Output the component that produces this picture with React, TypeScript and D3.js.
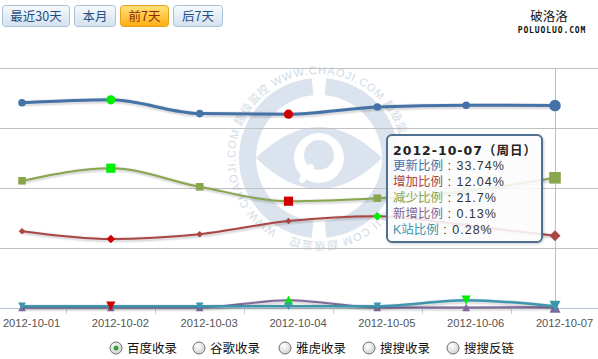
import React from 'react';
import * as d3 from 'd3';

// ---------------- data ----------------
const dates = ['2012-10-01', '2012-10-02', '2012-10-03', '2012-10-04', '2012-10-05', '2012-10-06', '2012-10-07'];
const seriesNames = ['更新比例', '增加比例', '减少比例', '新增比例', 'K站比例'];
const updateRatio = [34.2, 34.7, 32.4, 32.3, 33.5, 33.8, 33.74];
const increaseRatio = [12.8, 11.5, 12.3, 14.5, 15.3, 13.8, 12.04];
const decreaseRatio = [21.2, 23.3, 20.2, 17.8, 18.3, 19.5, 21.7];
const newRatio = [0.1, 0.1, 0.1, 1.3, 0.1, 0.1, 0.13];
const kRatio = [0.3, 0.3, 0.3, 0.3, 0.3, 1.3, 0.28];
const highIndex = [1, 4, 1, 3, 5];
const lowIndex = [3, 1, 3, -1, 1];
const hoverIndex = 6;
const tooltipTitle = '2012-10-07（周日）';
const tooltipValues = ['33.74%', '12.04%', '21.7%', '0.13%', '0.28%'];
const yTicks = [0, 10, 20, 30, 40];
const buttonLabels = ['最近30天', '本月', '前7天', '后7天'];
const legendItems = ['百度收录', '谷歌收录', '雅虎收录', '搜搜收录', '搜搜反链'];
const watermarkText = 'WWW.CHAOJI.COM  超级监控  ';

const seriesData = [updateRatio, increaseRatio, decreaseRatio, newRatio, kRatio];

// ---------------- styles ----------------
const W = 598;
const H = 359;
const colors = ['#4572A7', '#AA4643', '#89A54E', '#80699B', '#3D96AE'];
const symbols = ['circle', 'diamond', 'square', 'triangle', 'triangle-down'];
const lineWidths = [3, 2, 2, 2, 2.5];
const markerR = { normal: [3.8, 3.3, 3.8, 3.8, 3.8], high: [4.6, 4.3, 4.6, 4.6, 4.6], hover: [5.8, 5.5, 5.8, 5.5, 5.5] };
const HIGH = '#00EE00';
const LOW = '#CC0000';
const CJK = '"Noto Sans CJK SC", sans-serif';

const x = d3.scalePoint<string>().domain(dates).range([22, 555]);
const y = d3.scaleLinear().domain([0, 40]).range([308, 68]);

function symbolPath(sym: string, r: number): string {
  switch (sym) {
    case 'circle':
      return d3.symbol(d3.symbolCircle, Math.PI * r * r)() as string;
    case 'square':
      return `M${-r},${-r}H${r}V${r}H${-r}Z`;
    case 'diamond':
      return `M0,${-r}L${r},0L0,${r}L${-r},0Z`;
    case 'triangle':
      return `M0,${-r}L${r},${r}L${-r},${r}Z`;
    default:
      return `M${-r},${-r}L${r},${-r}L0,${r}Z`;
  }
}

const line = d3
  .line<number>()
  .x((_, i) => x(dates[i]) as number)
  .y((d) => y(d))
  .curve(d3.curveMonotoneX);

function Button({ x0, w, label, active }: { x0: number; w: number; label: string; active: boolean }) {
  return (
    <g>
      <rect x={x0 + 0.5} y={5.5} width={w} height={21} rx={3} fill={active ? 'url(#btnOrange)' : 'url(#btnBlue)'} stroke={active ? '#e8a020' : '#a9c0d8'} />
      <text x={x0 + w / 2 + 0.5} y={20.5} textAnchor="middle" fontSize={12.5} fontFamily={CJK} fill={active ? '#8a2a00' : '#1d4f82'}>
        {label}
      </text>
    </g>
  );
}

function Watermark() {
  const cx = 319;
  const cy = 158;
  const gap = 0.09;
  const arc = d3.arc<any>().innerRadius(63).outerRadius(80);
  const a1 = arc({ startAngle: gap, endAngle: Math.PI - gap }) as string;
  const a2 = arc({ startAngle: Math.PI + gap, endAngle: 2 * Math.PI - gap }) as string;
  const tr = 84;
  const circ = 2 * Math.PI * tr;
  const a0 = (2 * Math.PI) / 3;
  const p = d3.path();
  p.moveTo(Math.cos(a0) * tr, Math.sin(a0) * tr);
  p.arc(0, 0, tr, a0, a0 + 2 * Math.PI - 0.001);
  const hw = 63;
  const hh = 31;
  const fill = '#dbe4ee';
  return (
    <g transform={`translate(${cx},${cy})`}>
      <path d={a1} fill={fill} />
      <path d={a2} fill={fill} />
      <path d={`M${-hw},0Q0,${-2 * hh} ${hw},0Q0,${2 * hh} ${-hw},0Z`} fill={fill} />
      <circle r={25} fill="#fff" />
      <circle cx={0} cy={-3} r={15} fill={fill} />
      <line x1={-8} y1={9} x2={-17} y2={22} stroke="#fff" strokeWidth={6} strokeLinecap="round" />
      <path id="wmCircle" d={p.toString()} fill="none" />
      <text fontSize={11} fill="#d0dbe6" fontFamily={'"Liberation Sans", "Noto Sans CJK SC", sans-serif'}>
        <textPath href="#wmCircle" startOffset={0} textLength={circ * 0.97} lengthAdjust="spacing">
          {watermarkText + watermarkText + watermarkText}
        </textPath>
      </text>
    </g>
  );
}

export default function App() {
  const hx = x(dates[hoverIndex]) as number;
  const tickMids = dates.slice(1).map((d, i) => ((x(dates[i]) as number) + (x(d) as number)) / 2);
  const btnLayout = [
    { x0: 2, w: 67 },
    { x0: 74, w: 41 },
    { x0: 120, w: 48 },
    { x0: 173, w: 49 },
  ];
  const legendX = [116, 199, 285, 369, 453];
  const tip = { x: 387, y: 135, w: 155, h: 107 };
  return (
    <div style={{ position: 'absolute', left: 0, top: 0, width: W, height: H }}>
      <svg width={W} height={H} style={{ display: 'block' }}>
        <defs>
          <linearGradient id="btnBlue" x1="0" y1="0" x2="0" y2="1">
            <stop offset="0" stopColor="#f7fafd" />
            <stop offset="1" stopColor="#d3e1ef" />
          </linearGradient>
          <linearGradient id="btnOrange" x1="0" y1="0" x2="0" y2="1">
            <stop offset="0" stopColor="#ffe27a" />
            <stop offset="1" stopColor="#ffad10" />
          </linearGradient>
          <radialGradient id="radio" cx="0.4" cy="0.35" r="0.7">
            <stop offset="0" stopColor="#ffffff" />
            <stop offset="1" stopColor="#cfcfcf" />
          </radialGradient>
          <filter id="tipShadow" x="-10%" y="-10%" width="130%" height="130%">
            <feDropShadow dx="1" dy="1" stdDeviation="1" floodColor="#000" floodOpacity="0.2" />
          </filter>
        </defs>
        <rect width={W} height={H} fill="#fff" />

        {buttonLabels.map((b, i) => (
          <Button key={b} x0={btnLayout[i].x0} w={btnLayout[i].w} label={b} active={i === 2} />
        ))}

        <text x={549} y={21} textAnchor="middle" fontSize={12.5} fontFamily={CJK} fill="#111">破洛洛</text>
        <text x={552} y={33} textAnchor="middle" fontSize={8} fontWeight="bold" letterSpacing={0.9} fontFamily='"DejaVu Sans Mono", monospace' fill="#111">POLUOLUO.COM</text>

        <Watermark />

        {yTicks.slice(1).map((t) => (
          <line key={t} x1={0} x2={598} y1={y(t) + 0.5} y2={y(t) + 0.5} stroke="#C0C0C0" />
        ))}

        <line x1={0} x2={598} y1={308.5} y2={308.5} stroke="#b5c3d0" />
        {tickMids.map((m, i) => (
          <line key={i} x1={Math.round(m) + 0.5} x2={Math.round(m) + 0.5} y1={308} y2={314} stroke="#C0D0E0" />
        ))}
        {dates.map((d) => (
          <text key={d} x={(x(d) as number) + 9.5} y={327} textAnchor="middle" fontSize={11.2} fontFamily='"Liberation Sans", Arial, sans-serif' fill="#555">
            {d}
          </text>
        ))}

        <line x1={hx + 0.5} x2={hx + 0.5} y1={68} y2={308} stroke="#C0C0C0" />

        {seriesData.map((vals, s) => {
          const d = line(vals) as string;
          return (
            <g key={s}>
              <path d={d} fill="none" stroke="#000" strokeOpacity={0.05} strokeWidth={lineWidths[s] + 4} transform="translate(1,1)" />
              <path d={d} fill="none" stroke="#000" strokeOpacity={0.08} strokeWidth={lineWidths[s] + 2} transform="translate(1,1)" />
              <path d={d} fill="none" stroke={colors[s]} strokeWidth={lineWidths[s]} strokeLinejoin="round" strokeLinecap="round" />
              {vals.map((v, i) => {
                let r = markerR.normal[s];
                let c = colors[s];
                if (i === highIndex[s]) {
                  r = markerR.high[s];
                  c = HIGH;
                } else if (i === lowIndex[s]) {
                  r = markerR.high[s];
                  c = LOW;
                }
                if (i === hoverIndex) r = markerR.hover[s];
                return <path key={i} d={symbolPath(symbols[s], r)} transform={`translate(${x(dates[i])},${y(v)})`} fill={c} />;
              })}
            </g>
          );
        })}

        <g filter="url(#tipShadow)">
          <rect x={tip.x} y={tip.y} width={tip.w} height={tip.h} rx={5} fill="#fff" fillOpacity={0.86} stroke="#4f6f91" strokeWidth={2} />
        </g>
        <text x={393} y={155} fontSize={12.5} fontWeight="bold" letterSpacing={1} fontFamily={'"DejaVu Sans", "Noto Sans CJK SC", sans-serif'} fill="#222">
          {tooltipTitle}
        </text>
        {seriesNames.map((n, i) => (
          <text key={n} x={393} y={170 + i * 16} fontSize={12.5} fontFamily={'"Liberation Sans", "Noto Sans CJK SC", sans-serif'}>
            <tspan fill={colors[i]}>{n}</tspan>
            <tspan fill="#333" letterSpacing={1}>{' : ' + tooltipValues[i]}</tspan>
          </text>
        ))}

        {legendItems.map((l, i) => (
          <g key={l}>
            <circle cx={legendX[i]} cy={348} r={6} fill="url(#radio)" stroke="#6f6f6f" strokeWidth={1} />
            {i === 0 && <circle cx={legendX[i]} cy={348} r={2.5} fill="#3aa03a" />}
            <text x={legendX[i] + 11} y={352.5} fontSize={12.5} fontFamily={CJK} fill="#111">
              {l}
            </text>
          </g>
        ))}
      </svg>
    </div>
  );
}
